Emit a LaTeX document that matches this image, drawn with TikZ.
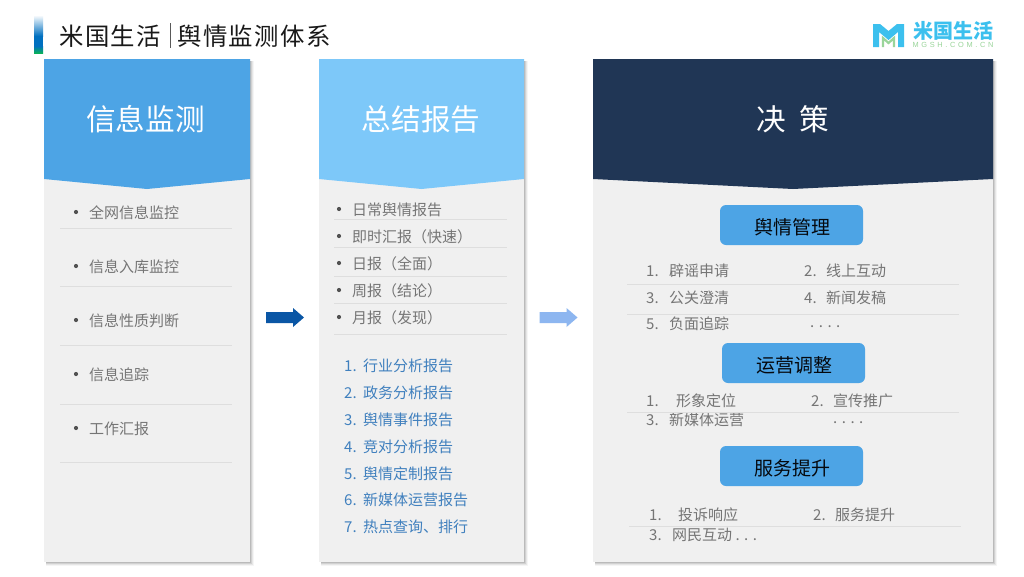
\documentclass[tikz,border=0pt]{standalone}
\usepackage{fontspec}
\setmainfont{Noto Sans CJK SC}
\newfontfamily\titlefont[LetterSpace=6]{Noto Sans CJK SC}
\newfontfamily\logofont[LetterSpace=36]{Liberation Sans}
\definecolor{headA}{HTML}{4DA4E5}
\definecolor{headB}{HTML}{7DC8F9}
\definecolor{headC}{HTML}{203655}
\definecolor{bodyc}{HTML}{F0F0F0}
\definecolor{rulec}{HTML}{DEDEDE}
\definecolor{txtc}{HTML}{757575}
\definecolor{bluetxt}{HTML}{4080BE}
\definecolor{logoB}{HTML}{3CC0EE}
\definecolor{logoG}{HTML}{9AD59A}
\definecolor{barblue}{HTML}{0070C0}
\definecolor{bargreen}{HTML}{0AB05A}
\definecolor{arrdark}{HTML}{0A56A5}
\definecolor{arrlight}{HTML}{8DB6F0}
\tikzset{
  x=1pt,y=-1pt,
  item/.style={anchor=west,inner sep=0pt,yshift=-0.8pt,font=\fontsize{15}{15}\selectfont,text=txtc},
  numitem/.style={item,text=bluetxt},
  dotb/.style={fill=txtc!70!black,circle,inner sep=0pt,minimum size=4.2pt},
  rulel/.style={draw=rulec,line width=0.8pt},
  headt/.style={inner sep=0pt,text=white,font=\fontsize{29.6}{29.6}\selectfont},
  btn/.style={fill=headA,rounded corners=6pt,minimum width=143pt,minimum height=40pt,inner sep=0pt,text=black!85!headC,font=\fontsize{19}{19}\selectfont},
}
\newcommand{\panel}[4]{% x0 x1 head-colour notch-x
  \foreach \k/\o in {4/0.04,3/0.06,2/0.09,1/0.11}{
    \fill[black,opacity=\o] (#1+2,59+2) rectangle (#2+\k,562+\k);}
  \fill[bodyc] (#1,59) rectangle (#2,562);
  \fill[#3] (#1,59) -- (#2,59) -- (#2,179) -- (#4,189) -- (#1,179) -- cycle;
}
\newcommand{\blockarrow}[2]{% left x, colour
  \fill[#2] (#1,312) -- (#1+27,312) -- (#1+27,308) -- (#1+38,317.5) -- (#1+27,327) -- (#1+27,323) -- (#1,323) -- cycle;
}
\newcommand{\btntext}[1]{\hspace*{2pt}\raisebox{-5pt}[14pt][5pt]{#1}}
\begin{document}
\begin{tikzpicture}
\useasboundingbox (0,0) rectangle (1024,576);
\fill[white] (0,0) rectangle (1024,576);
% title bar
\shade[top color=white,bottom color=barblue] (34,15) rectangle (43,36);
\fill[barblue] (34,36) rectangle (43,46);
\shade[top color=barblue,bottom color=bargreen] (34,46) rectangle (43,53);
\node[anchor=west,inner sep=0pt,text=black!90,font=\titlefont\fontsize{24.4}{24.4}\selectfont] (title1) at (59,36) {米国生活};
\draw[black!65,line width=0.8pt] (170,23) -- (170,48);
\node[anchor=west,inner sep=0pt,text=black!90,font=\titlefont\fontsize{24.4}{24.4}\selectfont] (title2) at (177,36) {舆情监测体系};
% logo
\fill[logoB] (873,24) -- (880,24) -- (888.5,31) -- (897,24) -- (904,24) -- (904,47) -- (898,47) -- (898,32) -- (888.5,40) -- (879,32) -- (879,47) -- (873,47) -- cycle;
\draw[logoG,line width=2.2pt] (883,47) -- (883,38) -- (888.5,43) -- (894,38) -- (894,47);
\node[inner sep=0pt,text=logoB,font=\bfseries\fontsize{20}{20}\selectfont] (logotxt) at (953,30.5) {米国生活};
\node[inner sep=0pt,text=logoG,font=\logofont\fontsize{7.4}{7.4}\selectfont] (logosub) at (953,45) {MGSH.COM.CN};
% panels
\panel{44}{250}{headA}{147}
\panel{319}{524}{headB}{421.5}
\panel{593}{993}{headC}{793}
\node[headt] (h1) at (145.5,119) {信息监测};
\node[headt] (h2) at (421,119) {总结报告};
\node[headt] (h3) at (792.5,119) {决\hspace{0.45em}策};
% arrows
\blockarrow{266}{arrdark}
\blockarrow{539.5}{arrlight}
% panel 1
\foreach \n/\t/\y in {a1/全网信息监控/212,a2/信息入库监控/266,a3/信息性质判断/320,a4/信息追踪/374,a5/工作汇报/428}{
  \node[dotb] (\n d) at (76,\y) {};
  \node[item] (\n) at (89,\y) {\t};
}
\foreach \y in {228,286,345,404,462}{\draw[rulel] (60,\y) -- (232,\y);}
% panel 2
\foreach \n/\t/\y in {b1/日常舆情报告/209,b2/即时汇报（快速）/236,b3/日报（全面）/263,b4/周报（结论）/290,b5/月报（发现）/317}{
  \node[dotb] (\n d) at (339,\y) {};
  \node[item] (\n) at (352,\y) {\t};
}
\foreach \y in {219,247.5,276.5,303.5,334}{\draw[rulel] (334,\y) -- (507,\y);}
\foreach \n/\m/\t/\y in {n1/1{.}/行业分析报告/365,n2/2{.}/政务分析报告/392,n3/3{.}/舆情事件报告/419,n4/4{.}/竞对分析报告/446,n5/5{.}/舆情定制报告/473,n6/6{.}/新媒体运营报告/499,n7/7{.}/热点查询、排行/526}{
  \node[numitem] (\n m) at (344,\y) {\m};
  \node[numitem] (\n) at (363,\y) {\t};
}
% panel 3
\node[btn] (s1) at (791.5,225) {\btntext{舆情管理}};
\node[btn] (s2) at (793.5,363) {\btntext{运营调整}};
\node[btn] (s3) at (791.5,466) {\btntext{服务提升}};
\foreach \n/\m/\a/\t/\b/\y in {
  c1/1{.}/646/辟谣申请/669/270,c2/2{.}/804/线上互动/826/270,
  c3/3{.}/646/公关澄清/669/297,c4/4{.}/804/新闻发稿/826/297,
  c5/5{.}/646/负面追踪/669/323,
  d1/1{.}/646/形象定位/676/400,d2/2{.}/811/宣传推广/833/400,
  d3/3{.}/646/新媒体运营/669/419,
  e1/1{.}/649/投诉响应/678/514,e2/2{.}/813/服务提升/835/514}{
  \node[item] (\n m) at (\a,\y) {\m};
  \node[item] (\n) at (\b,\y) {\t};
}
\node[item] (e3m) at (649,534) {3.};
\node[item] (e3) at (672,534) {网民互动 . . .};
\node[item] (c6) at (810,326) {. . . .};
\node[item] (d4) at (833,422) {. . . .};
\foreach \y/\xa/\xb in {284/627/959,314/627/959,412/627/959,526/629/961}{\draw[rulel] (\xa,\y) -- (\xb,\y);}
\end{tikzpicture}
\end{document}
